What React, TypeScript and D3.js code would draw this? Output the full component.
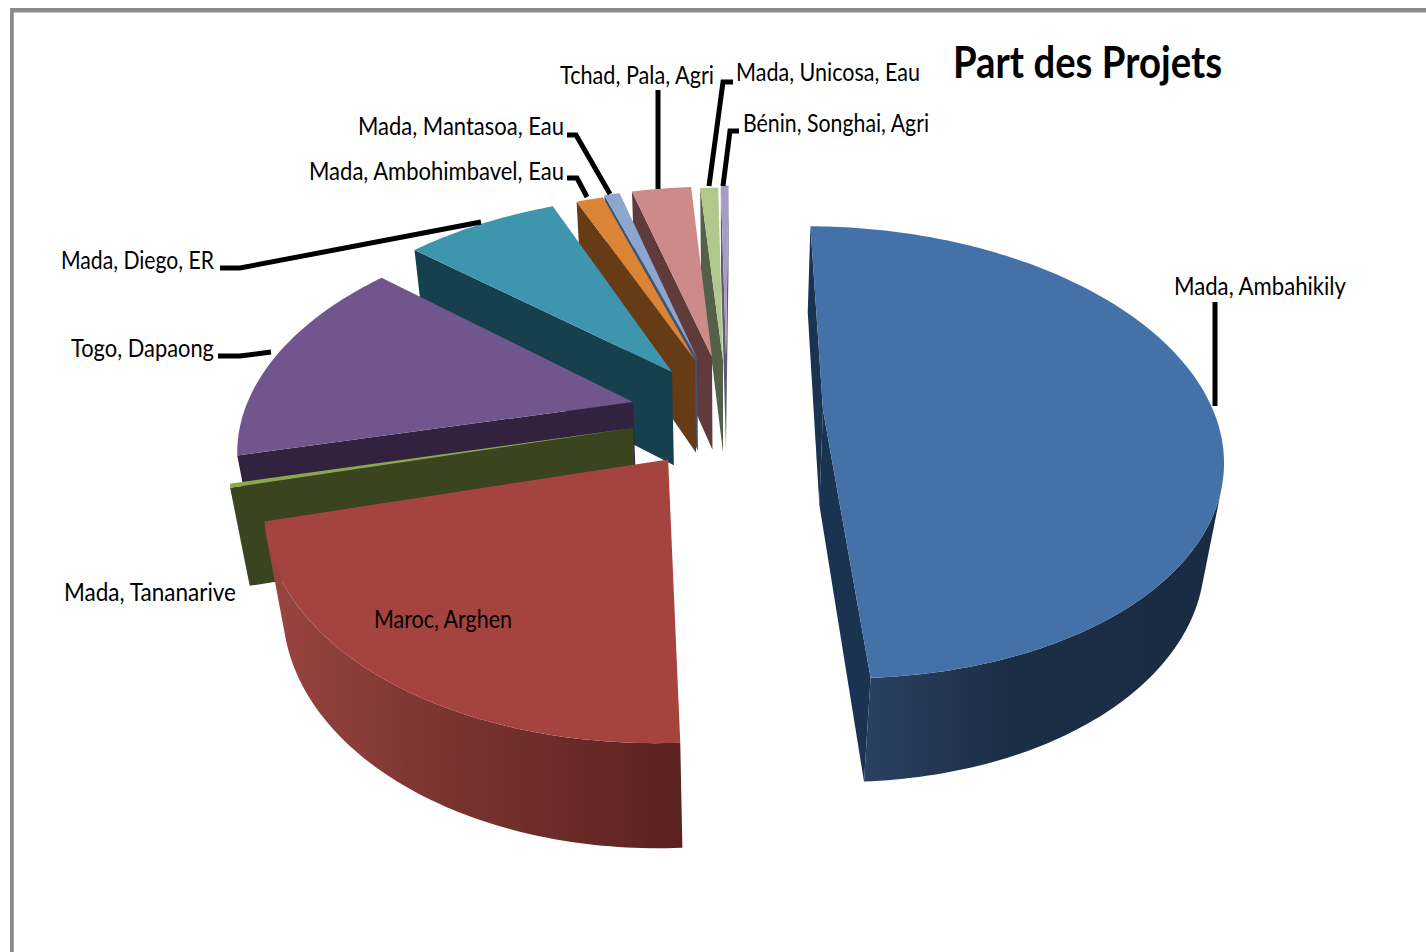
import React from "react";
import * as d3 from "d3";

// ---- data ----
const categories = [
  "Mada, Ambahikily", "Maroc, Arghen", "Mada, Tananarive", "Togo, Dapaong", "Mada, Diego, ER",
  "Mada, Ambohimbavel, Eau", "Mada, Mantasoa, Eau", "Tchad, Pala, Agri", "Mada, Unicosa, Eau", "Bénin, Songhai, Agri",
];
const values = [49.0, 21.7, 0.28, 15.1, 7.47, 1.36, 0.78, 2.97, 0.89, 0.39];
// how far each slice is pulled out of the pie, in units of the pie radius
const pullX = [0.2513, -0.1399, -0.2323, -0.2375, -0.1405, -0.0804, -0.0751, -0.0349, -0.0054, 0.0027];
const pullY = [0, 0.218, 0.0813, -0.037, -0.1802, -0.2395, -0.2495, -0.2545, -0.2395, -0.265];
const radiusScale = [1, 0.97, 0.99, 0.995, 1.03, 1, 1.005, 1.012, 1.02, 1.01];
const topColors = ["#4471a8", "#a5433f", "#8aa84e", "#70568c", "#3d96ae", "#db8436", "#8ba6d0", "#cc8a88", "#b0c88c", "#a79cc4"];
const faceColors = ["#1a3350", "#5a2120", "#3a4520", "#32213f", "#17404e", "#663b16", "#3f5670", "#5f3b3c", "#55604a", "#5f5a70"];
const wallStops = [
  ["#2a4163", "#1c2e45", "#192c44"], ["#9a4541", "#7c3531", "#5b2220"], ["#3a4520"], ["#32213f"], ["#17404e"],
  ["#663b16"], ["#3f5670"], ["#5f3b3c"], ["#55604a"], ["#5f5a70"],
];
const drawOrder = [9, 8, 7, 6, 5, 4, 3, 2, 1, 0];
const title = "Part des Projets";

// label layout: [text index, left x, right x, baseline y]
const labelBoxes: [number, number, number, number][] = [
  [0, 1174, 1346, 295], [1, 374, 512, 628], [2, 64, 236, 601], [3, 71, 214, 357], [4, 61, 214, 269],
  [5, 309, 564, 180], [6, 358, 564, 135], [7, 560, 714, 84], [8, 736, 920, 81], [9, 743, 929, 132],
];
const leaders: [number, number][][] = [
  [[1215, 302], [1215, 406]],
  [[218, 356], [240, 356], [271, 352]],
  [[220, 268], [240, 268], [481, 222]],
  [[658, 90], [658, 189]],
  [[733, 82], [723, 82], [709, 186]],
  [[739, 131], [730, 131], [723, 186]],
  [[567, 135], [576, 135], [610, 194]],
  [[567, 178], [577, 178], [587, 197]],
];

// ---- projection ----
const W = 1426, H = 952;
const cx = 725, cy = 410, F = 390, elev = (34 * Math.PI) / 180, D = 4.43, depth = 0.305;
const cosE = Math.cos(elev), sinE = Math.sin(elev);
const cam = { x: 0, y: D * cosE, z: D * sinE };

function project(x: number, y: number, z: number): [number, number] {
  const w = y * cosE + z * sinE;
  const u = -y * sinE + z * cosE;
  const s = D / (D - w);
  return [cx + F * x * s, cy - F * u * s];
}

const line = d3.line<[number, number]>().x((d) => d[0]).y((d) => d[1]);
const closed = (p: [number, number][]) => (line(p) as string) + "Z";

const startDeg = 0.5;
const pie = d3.pie<number>().sort(null).startAngle((startDeg * Math.PI) / 180).endAngle(((360 + startDeg) * Math.PI) / 180);
const arcs = pie(values);

function slice(i: number) {
  const a0 = arcs[i].startAngle, a1 = arcs[i].endAngle, R = radiusScale[i];
  const ax = pullX[i], ay = pullY[i];
  const rim = (a: number): [number, number] => [ax + R * Math.sin(a), ay - R * Math.cos(a)];
  const n = Math.max(2, Math.ceil(((a1 - a0) * 180) / Math.PI));
  const angles = d3.range(n + 1).map((k) => a0 + ((a1 - a0) * k) / n);

  const top: [number, number][] = [project(ax, ay, 0), ...angles.map((a) => { const r = rim(a); return project(r[0], r[1], 0); })];

  const faces: string[] = [];
  const faceFor = (a: number, nx: number, ny: number) => {
    const r = rim(a);
    const vis = nx * (cam.x - ax) + ny * (cam.y - ay) > 0;
    if (vis) faces.push(closed([project(ax, ay, 0), project(r[0], r[1], 0), project(r[0], r[1], -depth), project(ax, ay, -depth)]));
  };
  faceFor(a0, -Math.cos(a0), -Math.sin(a0));
  faceFor(a1, Math.cos(a1), Math.sin(a1));

  const visibleAngles = angles.filter((a) => {
    const r = rim(a);
    return Math.sin(a) * (cam.x - r[0]) - Math.cos(a) * (cam.y - r[1]) > 0;
  });
  let wall: string | null = null;
  if (visibleAngles.length > 1) {
    const upper = visibleAngles.map((a) => { const r = rim(a); return project(r[0], r[1], 0); });
    const lower = visibleAngles.map((a) => { const r = rim(a); return project(r[0], r[1], -depth); }).reverse();
    wall = closed([...upper, ...lower]);
  }
  return { top: closed(top), faces, wall };
}

export default function App() {
  return (
    <svg width={W} height={H} viewBox={`0 0 ${W} ${H}`} style={{ position: "absolute", left: 0, top: 0, display: "block", background: "#fff" }}>
      <defs>
        {wallStops.map((s, i) => (
          <linearGradient key={i} id={`wall${i}`} x1="0" x2="1" y1="0" y2="0">
            {s.map((c, k) => (
              <stop key={k} offset={s.length > 1 ? (k === 1 ? 0.4 : k / (s.length - 1)) : 0} stopColor={c} />
            ))}
          </linearGradient>
        ))}
      </defs>
      <rect x={10} y={8} width={W} height={4.5} fill="#8a8a8a" />
      <rect x={10} y={8} width={3.8} height={H} fill="#8a8a8a" />
      {drawOrder.map((i) => {
        const s = slice(i);
        return (
          <g key={i}>
            {s.faces.map((f, k) => (
              <path key={k} d={f} fill={faceColors[i]} />
            ))}
            {s.wall && <path d={s.wall} fill={`url(#wall${i})`} />}
            <path d={s.top} fill={topColors[i]} />
          </g>
        );
      })}
      {leaders.map((l, i) => (
        <path key={i} d={line(l) as string} fill="none" stroke="#000" strokeWidth={5} strokeLinejoin="miter" />
      ))}
      {labelBoxes.map(([idx, x0, x1, y]) => (
        <text key={idx} x={x0} y={y} textLength={x1 - x0} lengthAdjust="spacingAndGlyphs" fontFamily="Lato, 'Open Sans', sans-serif" fontSize={25} fill="#000">
          {categories[idx]}
        </text>
      ))}
      <text x={953} y={78} textLength={269} lengthAdjust="spacingAndGlyphs" fontFamily="Lato, 'Open Sans', sans-serif" fontWeight={700} fontSize={43} fill="#000">
        {title}
      </text>
    </svg>
  );
}
